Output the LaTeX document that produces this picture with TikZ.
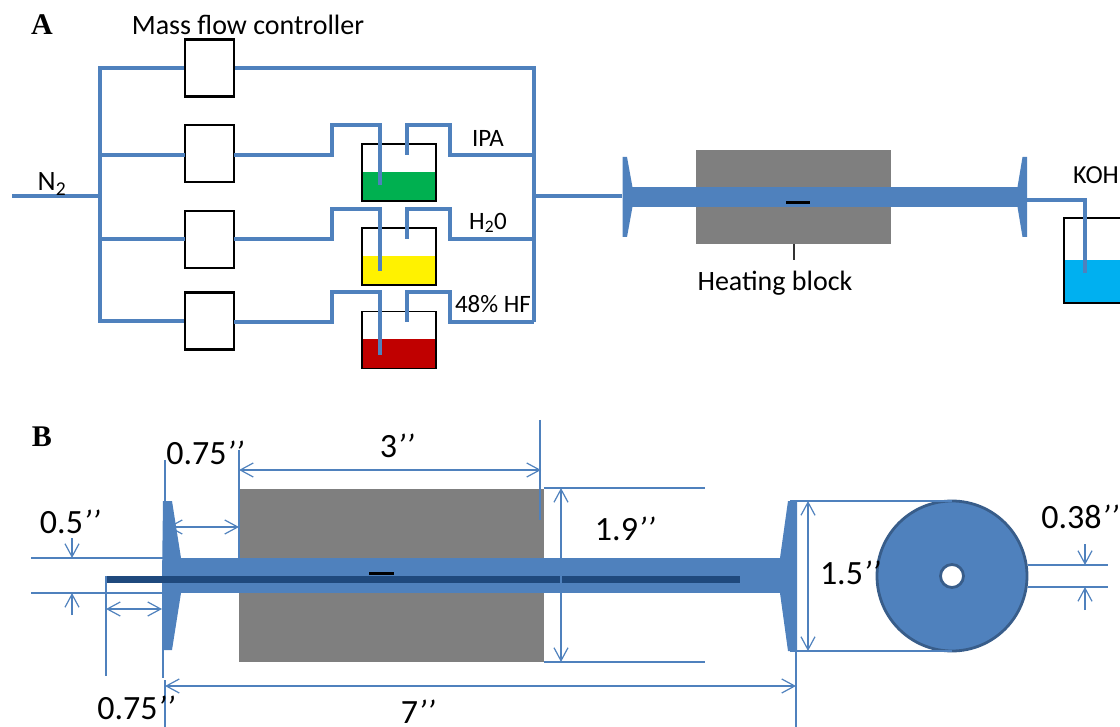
\documentclass[tikz,border=0pt]{standalone}
\usepackage{fontspec}
\setmainfont{Carlito}
\newfontfamily\serifbold{Liberation Serif}[Ligatures=TeX]
\usetikzlibrary{arrows.meta}
\definecolor{pipe}{HTML}{4F81BD}
\definecolor{pipedark}{HTML}{1F497D}
\definecolor{ringdark}{HTML}{385D8A}
\definecolor{blockgray}{HTML}{7F7F7F}
\newcommand{\inch}{\textit{’’}}
\tikzset{
  mfc/.style={draw=black,fill=white,line width=2.4pt,minimum width=49pt,minimum height=57pt,inner sep=0pt},
  beaker/.style={draw=black,line width=1.8pt,minimum width=74pt,minimum height=57pt,inner sep=0pt},
  pipeline/.style={draw=pipe,line width=4pt,line join=miter},
  dipline/.style={draw=pipe,line width=3.4pt},
  dimline/.style={draw=pipe,line width=1.2pt},
  dimboth/.style={dimline,{Straight Barb[length=13pt,width=14pt,line width=1.2pt]}-{Straight Barb[length=13pt,width=14pt,line width=1.2pt]}},
  dimto/.style={dimline,-{Straight Barb[length=13pt,width=14pt,line width=1.2pt]}},
  lbl/.style={inner sep=0pt,text=black,anchor=center},
  panel/.style={inner sep=0pt,text=black,font=\serifbold\bfseries\fontsize{30}{30}\selectfont},
  big/.style={lbl,font=\fontsize{34}{34}\selectfont},
  mid/.style={lbl,font=\fontsize{28}{28}\selectfont},
  small/.style={lbl,font=\fontsize{25}{25}\selectfont},
  flange/.style={fill=pipe,draw=none}
}
\begin{document}
\begin{tikzpicture}[x=1pt,y=-1pt]
\useasboundingbox (0,0) rectangle (1120,727);
% ---------- panel A ----------
\node[panel] (labelA) at (42,25) {A};
\node[mid] (mfclabel) at (248,25) {Mass flow controller};
% liquids
\fill[fill={rgb,255:red,0;green,176;blue,80}] (362,172) rectangle (436,201);
\fill[yellow] (362,256) rectangle (436,285);
\fill[fill={rgb,255:red,192;green,0;blue,0}] (362,339) rectangle (436,369);
\fill[fill={rgb,255:red,0;green,176;blue,240}] (1064,260) rectangle (1120,303);
\node[beaker] (bk1) at (399,172.5) {};
\node[beaker] (bk2) at (399,256.5) {};
\node[beaker] (bk3) at (399,340) {};
\draw[draw=black,line width=1.8pt] (1120,218) -- (1064,218) -- (1064,303) -- (1120,303);
% boxes
\node[mfc] (m0) at (209.5,68) {};
\node[mfc] (m1) at (209.5,153.5) {};
\node[mfc] (m2) at (209.5,239.5) {};
\node[mfc] (m3) at (209.5,321) {};
% named junctions
\coordinate (in) at (12,196);
\coordinate (busLT) at (100,68);
\coordinate (busLB) at (100,321);
\coordinate (busLM) at (100,196);
\coordinate (busRT) at (534,68);
\coordinate (busRB) at (534,322);
\coordinate (busRM) at (534,196);
\coordinate (tubeL) at (622,196);
% gas lines
\draw[pipeline] (in) -- (busLM);
\draw[pipeline] (m0.west) -- (busLT) -- (busLB) -- (m3.west);
\draw[pipeline] (100,155) -- (185,155);
\draw[pipeline] (100,239) -- (185,239);
\draw[pipeline] (m0.east) -- (busRT) -- (busRB);
\draw[pipeline] (busRM) -- (tubeL);
% bubbler plumbing
\draw[pipeline] (234,155) -- (332,155) -- (332,125) -- (380,125) -- (380,185);
\draw[pipeline] (407,155) -- (407,125) -- (450,125) -- (450,155) -- (534,155);
\draw[pipeline] (234,239) -- (332,239) -- (332,209) -- (380,209) -- (380,271);
\draw[pipeline] (407,239) -- (407,209) -- (450,209) -- (450,239) -- (534,239);
\draw[pipeline] (234,322) -- (332,322) -- (332,292) -- (380,292) -- (380,355);
\draw[pipeline] (407,322) -- (407,292) -- (450,292) -- (450,322) -- (534,322);
\node[small] (ipa) at (488,138) {IPA};
\node[small] (h2o) at (488,223) {H\textsubscript{2}0};
\node[small] (hf) at (493,304) {48\% HF};
\node[mid] (n2) at (52,184) {N\textsubscript{2}};
% reactor A
\node[fill=blockgray,minimum width=195pt,minimum height=94pt,inner sep=0pt] (blockA) at (793.5,197) {};
\fill[pipe] (630,187) rectangle (1019,207);
\fill[flange] (622.5,157) -- (627,157) -- (633,190) -- (633,204) -- (627,237) -- (622.5,237) -- cycle;
\fill[flange] (1027,157) -- (1022.5,157) -- (1017,190) -- (1017,204) -- (1022.5,237) -- (1027,237) -- cycle;
\fill[black] (786,201.5) rectangle (810,204.5);
\coordinate (kohA) at (1017,200);
\coordinate (kohB) at (1085,200);
\coordinate (kohC) at (1085,273);
\draw[dipline] (kohA) -- (kohB) -- (kohC);
\coordinate (tick) at (794,260);
\draw[draw=black!80,line width=1.3pt] (794,244) -- (tick);
\node[mid] (heatlabel) at (775,283) {Heating block};
\node[lbl,font=\fontsize{26}{26}\selectfont,anchor=west] (koh) at (1073,175) {KOH};
% ---------- panel B ----------
\node[panel] (labelB) at (42,437) {B};
\node[fill=blockgray,minimum width=305pt,minimum height=173pt,inner sep=0pt] (blockB) at (391.5,575.5) {};
\fill[pipe] (170,558) rectangle (785,593);
\fill[flange] (163,501) -- (172,501) -- (181,558) -- (181,593) -- (172,650) -- (162,650) -- (162,580) -- cycle;
\fill[flange] (788,501) -- (797,501) -- (797,651) -- (788,651) -- (780,593) -- (780,558) -- cycle;
\fill[pipedark] (106,576) rectangle (740,583);
\fill[black] (369,571.5) rectangle (394,574.5);
% disc
\node[circle,draw=ringdark,fill=pipe,line width=2.8pt,minimum size=150pt,inner sep=0pt] (disc) at (952,576) {};
\node[circle,draw=ringdark,fill=white,line width=2.8pt,minimum size=23pt,inner sep=0pt] (hole) at (952,576) {};
% extension lines
\draw[dimline] (165,460) -- (165,501);
\draw[dimline] (239,450) -- (239,558);
\draw[dimline] (540,420) -- (540,520);
\draw[dimline] (31,558) -- (165,558);
\draw[dimline] (31,593) -- (165,593);
\draw[dimline] (106,576) -- (106,676);
\draw[dimline] (163,640) -- (163,678);
\draw[dimline] (165,680) -- (165,727);
\draw[dimline] (544,488) -- (705,488);
\draw[dimline] (544,662) -- (705,662);
\draw[dimline] (796,651) -- (796,727);
\draw[dimline] (790,501) -- (952,501);
\draw[dimline] (790,651) -- (952,651);
\draw[dimline] (1028,565) -- (1108,565);
\draw[dimline] (1028,587) -- (1108,587);
% dimension arrows
\draw[dimboth] (239,470) -- (541,470);
\draw[dimboth] (168,527) -- (239,527);
\draw[dimboth] (106,609) -- (162,609);
\draw[dimboth] (165,686) -- (796,686);
\draw[dimboth] (561,488) -- (561,662);
\draw[dimboth] (808,501) -- (808,651);
\draw[dimto] (72,538) -- (72,558);
\draw[dimto] (72,615) -- (72,593);
\draw[dimto] (1085,544) -- (1085,565);
\draw[dimto] (1085,610) -- (1085,587);
% dimension labels
\node[big] (d1) at (205,453) {0.75\inch};
\node[big] (d2) at (397,446) {3\inch};
\node[big] (d3) at (70,522) {0.5\inch};
\node[big] (d4) at (625,529) {1.9\inch};
\node[big] (d5) at (850,573) {1.5\inch};
\node[big] (d6) at (1080,517) {0.38\inch};
\node[big] (d7) at (136,708) {0.75\inch};
\node[big] (d8) at (418,712) {7\inch};
\end{tikzpicture}
\end{document}
